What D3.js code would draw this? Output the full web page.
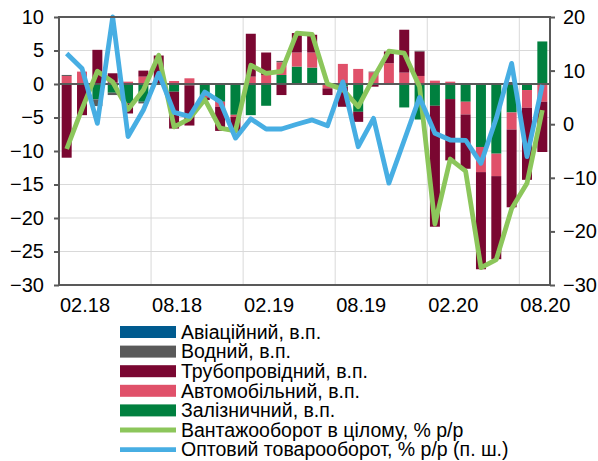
<!DOCTYPE html>
<html><head><meta charset="utf-8">
<script src="https://cdn.jsdelivr.net/npm/d3@7"></script>
<style>
body{margin:0;background:#fff}
text{font-family:"Liberation Sans",Arial,sans-serif;fill:#000}
</style>
</head><body>
<svg id="c" width="598" height="461"></svg>
<script>
// ---- data ----
const months = ["01.18","02.18","03.18","04.18","05.18","06.18","07.18","08.18","09.18","10.18","11.18","12.18",
                "01.19","02.19","03.19","04.19","05.19","06.19","07.19","08.19","09.19","10.19","11.19","12.19",
                "01.20","02.20","03.20","04.20","05.20","06.20","07.20","08.20"];
const xTickLabels = ["02.18","08.18","02.19","08.19","02.20","08.20"];
const leftTicks = [-30,-25,-20,-15,-10,-5,0,5,10];
const rightTicks = [-30,-20,-10,0,10,20];

const aviation = [0,0,0,0,0,0,0,0,0,0,0,0, 0,0,0,0,0,0,0,0,0,0,0,0, 0,0,0,0,0,0,0,0];
const water    = [0.15,0,-1.0,-0.35,0,-0.25,0,0,0,0,0,0, 0,0,0.2,0,0,0,0,0,0.1,0,0,0.1, 0,0,0,0,0,0.3,0,0];
const pipeline = [-11.0,-4.65,5.1,1.4,-1.5,0.9,4.25,-5.5,-6.0,-0.4,-3.6,-2.2,
                  6.4,3.35,-1.65,2.9,2.65,-1.0,-3.0,-1.5,-0.4,1.75,6.4,3.65,
                  -18.05,-9.15,-8.1,-14.5,-12.4,-11.6,-10.75,-7.5];
const auto     = [1.2,1.85,0,0.2,0.35,1.1,0,0.45,0.85,-0.3,-0.75,-0.3,
                  1.1,1.35,1.9,2.1,2.25,-0.65,3.0,2.25,1.75,3.1,1.7,1.2,
                  0.5,0.35,-1.9,-3.75,-3.35,-2.55,-2.65,-2.65];
const rail     = [0,0,-2.3,-1.3,-2.9,-2.65,0,-1.15,-0.2,-1.7,-2.65,-4.6,
                  -4.65,-3.25,1.35,2.6,2.45,0,-0.4,-4.15,0,0,-3.5,-5.3,
                  -3.25,-2.25,-2.65,-9.4,-10.4,-4.25,-0.9,6.35];
const cargoTotal = [-9.7,-3.7,1.9,0.3,-3.8,-0.9,4.3,-6.4,-5.2,-2.3,-6.6,-7.0,
                    2.8,1.6,1.9,7.6,7.4,0.0,-0.8,-3.4,0.9,4.9,4.6,-0.4,
                    -20.9,-11.2,-13.0,-27.4,-26.2,-18.6,-14.8,-3.9];
const wholesale  = [13.2,10.4,0.15,20.0,-2.3,2.65,9.5,2.2,1.45,6.0,4.2,-2.6,
                    1.0,-0.9,-0.9,0.0,0.8,-0.3,7.9,-4.2,1.1,-11.0,-3.0,5.0,
                    -1.7,-2.95,-3.0,-7.3,1.1,11.35,-6.05,7.3];

const legendLabels = ["Авіаційний, в.п.","Водний, в.п.","Трубопровідний, в.п.","Автомобільний, в.п.",
                      "Залізничний, в.п.","Вантажооборот в цілому, % р/р","Оптовий товарооборот, % р/р (п. ш.)"];

// ---- styles ----
const colors = {avia:"#005B8F", water:"#5A5A5A", pipe:"#7A0731", auto:"#E0516A", rail:"#00803F",
                green:"#8CC65B", blue:"#47AEE3"};
const L=59, R=550, T=17, B=285;

const svg = d3.select("#c");
const x = d3.scaleBand().domain(months).range([L,R]).paddingInner(0.35).paddingOuter(0.175);
const yL = d3.scaleLinear().domain([-30,10]).range([B,T]);
const yR = d3.scaleLinear().domain([-30,20]).range([B,T]);
const bw = x.bandwidth(), step = x.step();

// gridlines
svg.append("g").selectAll("line").data(leftTicks).join("line")
  .attr("x1",L).attr("x2",R).attr("y1",d=>yL(d)).attr("y2",d=>yL(d))
  .attr("stroke","#D9D9D9").attr("stroke-width",1);
svg.append("g").selectAll("line").data(months.filter((m,i)=>i>0 && i%6===0)).join("line")
  .attr("x1",d=>x(d)-step*0.35/2).attr("x2",d=>x(d)-step*0.35/2).attr("y1",T).attr("y2",B)
  .attr("stroke","#D9D9D9").attr("stroke-width",1);

// stacked bars
const keys = ["rail","auto","pipe","water","avia"];
const rows = months.map((m,i)=>({m, rail:rail[i], auto:auto[i], pipe:pipeline[i], water:water[i], avia:aviation[i]}));
const series = d3.stack().keys(keys).offset(d3.stackOffsetDiverging)(rows);
svg.append("g").selectAll("g").data(series).join("g")
  .attr("fill",s=>colors[s.key])
  .selectAll("rect").data(s=>s).join("rect")
  .attr("x",d=>x(d.data.m)).attr("width",bw)
  .attr("y",d=>yL(Math.max(d[0],d[1])))
  .attr("height",d=>Math.abs(yL(d[0])-yL(d[1])));

// zero line
svg.append("line").attr("x1",L).attr("x2",R).attr("y1",yL(0)).attr("y2",yL(0))
  .attr("stroke","#595959").attr("stroke-width",2);

// lines
const cx = m => x(m)+bw/2;
svg.append("path").datum(cargoTotal)
  .attr("d",d3.line().x((d,i)=>cx(months[i])).y(d=>yL(d)))
  .attr("fill","none").attr("stroke",colors.green).attr("stroke-width",4.8).attr("stroke-linejoin","round");
svg.append("path").datum(wholesale)
  .attr("d",d3.line().x((d,i)=>cx(months[i])).y(d=>yR(d)))
  .attr("fill","none").attr("stroke",colors.blue).attr("stroke-width",4.8).attr("stroke-linejoin","round");

// frame
svg.append("rect").attr("x",L).attr("y",T).attr("width",R-L).attr("height",B-T)
  .attr("fill","none").attr("stroke","#595959").attr("stroke-width",2);

// axes
const fs = "20px";
const ax1 = svg.append("g").attr("transform",`translate(${L},0)`)
  .call(d3.axisLeft(yL).tickValues(leftTicks).tickSize(5).tickPadding(10).tickFormat(d3.format("d")));
const ax2 = svg.append("g").attr("transform",`translate(${R},0)`)
  .call(d3.axisRight(yR).tickValues(rightTicks).tickSize(5).tickPadding(8).tickFormat(d3.format("d")));
const ax3 = svg.append("g").attr("transform",`translate(0,${B})`)
  .call(d3.axisBottom(x).tickValues(xTickLabels).tickSize(0).tickPadding(13));
[ax1,ax2,ax3].forEach(a=>{
  a.select(".domain").remove();
  a.selectAll("line").attr("stroke","#595959").attr("stroke-width",2);
  a.selectAll("text").style("font-size",fs).style("font-family","'Liberation Sans',Arial,sans-serif").attr("fill","#000");
});
ax3.selectAll("text").attr("dx","3px");

// legend
const legColors = [colors.avia,colors.water,colors.pipe,colors.auto,colors.rail,colors.green,colors.blue];
const lg = svg.append("g");
legendLabels.forEach((lab,i)=>{
  const cy = 332 + i*19.6;
  if(i<5){
    lg.append("rect").attr("x",120).attr("y",cy-6).attr("width",56).attr("height",12).attr("fill",legColors[i]);
  } else {
    lg.append("line").attr("x1",120).attr("x2",176).attr("y1",cy).attr("y2",cy)
      .attr("stroke",legColors[i]).attr("stroke-width",4.8);
  }
  lg.append("text").attr("x",181).attr("y",cy).attr("dy","0.35em").style("font-size","19.5px").text(lab);
});
</script>
</body></html>
